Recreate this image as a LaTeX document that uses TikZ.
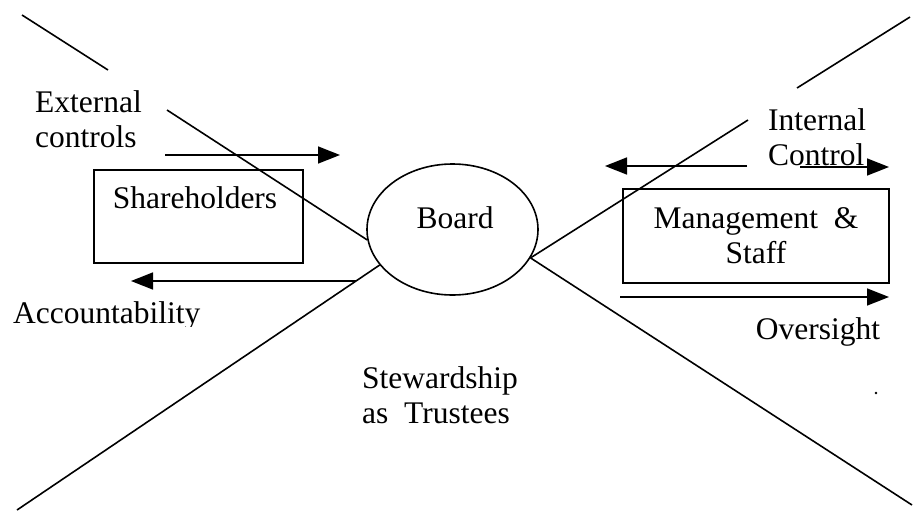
\documentclass[tikz,border=0pt]{standalone}
\usepackage{fontspec}
\setmainfont{Liberation Serif}
\usetikzlibrary{arrows.meta,shapes.geometric}
\begin{document}
\begin{tikzpicture}[x=1pt,y=-1pt,
  ln/.style={line width=1.6pt},
  arr/.style={line width=1.6pt,-{Triangle[length=22pt,width=17pt]}},
  txt/.style={inner sep=0pt,font=\fontsize{31.5}{35}\selectfont},
  boxstyle/.style={draw,line width=1.6pt,rectangle,inner sep=0pt}]
\useasboundingbox (0,0) rectangle (913,512);
% nodes
\node[draw,ellipse,line width=1.6pt,minimum width=171pt,minimum height=131pt,inner sep=0pt] (board) at (452.5,229.5) {};
\node[txt] (boardt) at (455,218) {Board};
\node[boxstyle,minimum width=209pt,minimum height=93pt] (sh) at (198.5,216.5) {};
\node[txt] (sht) at (195,198) {Shareholders};
\node[boxstyle,minimum width=266pt,minimum height=94pt,txt,align=center] (mg) at (756,236) {Management\ \ \&\\Staff};
\node[txt,align=left,anchor=west] (ext) at (35,119) {External\\controls};
\node[txt,align=left,anchor=west] (int) at (768,137.5) {Internal\\Control};
\node[txt] (ovs) at (818,332) {Oversight};
\node[txt,align=left,anchor=west] (stw) at (362,395) {Stewardship\\as\ \ Trustees};
\begin{scope}
\clip (0,290) rectangle (300,326);
\node[txt,anchor=base west] (acc) at (13,323) {Accountability};
\end{scope}
% free ends of the cross lines
\coordinate (tla) at (22,15);
\coordinate (tlb) at (108,70);
\coordinate (tlc) at (167,110);
\coordinate (bl) at (17,510);
\coordinate (tra) at (910,17);
\coordinate (trb) at (797,88);
\coordinate (trc) at (748,120);
\coordinate (br) at (912,505);
\draw[ln] (tla) -- (tlb);
\draw[ln] (tlc) -- (board.187);
\draw[ln] (board.206) -- (bl);
\draw[ln] (tra) -- (trb);
\draw[ln] (trc) -- (board.340.5);
\draw[ln] (board.340.5) -- (br);
% arrows
\coordinate (e1) at (165,155);
\coordinate (e2) at (340,155);
\draw[arr] (e1) -- (e2);
\coordinate (a1) at (356,281);
\coordinate (a2) at (131,281);
\draw[arr] (a1) -- (a2);
\coordinate (i1) at (747,166);
\coordinate (i2) at (605,166);
\draw[arr] (i1) -- (i2);
\coordinate (i3) at (800,167);
\coordinate (i4) at (889,167);
\draw[arr] (i3) -- (i4);
\coordinate (o1) at (620,297);
\coordinate (o2) at (889,297);
\draw[arr] (o1) -- (o2);
% speck
\fill (876,393) circle (1.3pt);
\end{tikzpicture}
\end{document}
